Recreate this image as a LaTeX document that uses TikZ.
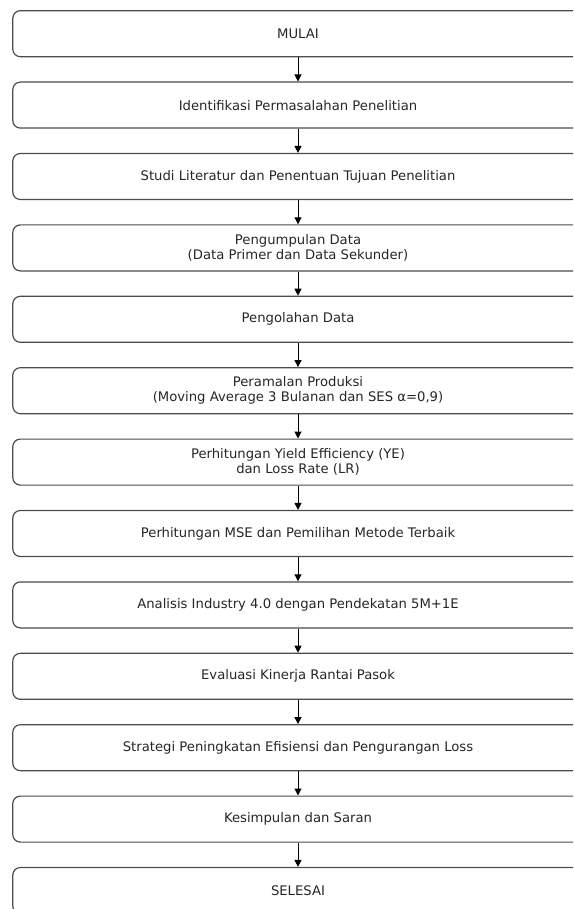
\documentclass[tikz,border=0pt]{standalone}
\usepackage{fontspec}
\setmainfont{DejaVu Sans}
\usetikzlibrary{positioning,arrows.meta}
\begin{document}
\begin{tikzpicture}[x=1pt, y=-1pt, node distance=24.2pt,
        stage/.style={draw=black!70, line width=1.2pt, rounded corners=7.5pt,
          minimum width=570.4pt, minimum height=46pt, inner sep=0pt,
          align=center, text=black!85, font=\fontsize{13.2}{15}\selectfont},
        flow/.style={-{Triangle[width=7pt,length=7pt]}, line width=1pt}]
        \clip (0, 0) rectangle (573, 909);

        % the boxes are wider than the picture and run past its right edge
        \node[stage] (mulai) at (298, 33.7) {MULAI};
        \node[stage, below=of mulai] (identifikasi) {Identifikasi Permasalahan Penelitian};
        \node[stage, below=of identifikasi] (studi) {Studi Literatur dan Penentuan Tujuan Penelitian};
        \node[stage, below=of studi] (pengumpulan) {Pengumpulan Data\\(Data Primer dan Data Sekunder)};
        \node[stage, below=of pengumpulan] (pengolahan) {Pengolahan Data};
        \node[stage, below=of pengolahan] (peramalan) {Peramalan Produksi\\(Moving Average 3 Bulanan dan SES α=0,9)};
        \node[stage, below=of peramalan] (yield) {Perhitungan Yield Efficiency (YE)\\dan Loss Rate (LR)};
        \node[stage, below=of yield] (mse) {Perhitungan MSE dan Pemilihan Metode Terbaik};
        \node[stage, below=of mse] (analisis) {Analisis Industry 4.0 dengan Pendekatan 5M+1E};
        \node[stage, below=of analisis] (evaluasi) {Evaluasi Kinerja Rantai Pasok};
        \node[stage, below=of evaluasi] (strategi) {Strategi Peningkatan Efisiensi dan Pengurangan Loss};
        \node[stage, below=of strategi] (kesimpulan) {Kesimpulan dan Saran};
        \node[stage, below=of kesimpulan] (selesai) {SELESAI};

        \draw[flow] (mulai) -- (identifikasi);
        \draw[flow] (identifikasi) -- (studi);
        \draw[flow] (studi) -- (pengumpulan);
        \draw[flow] (pengumpulan) -- (pengolahan);
        \draw[flow] (pengolahan) -- (peramalan);
        \draw[flow] (peramalan) -- (yield);
        \draw[flow] (yield) -- (mse);
        \draw[flow] (mse) -- (analisis);
        \draw[flow] (analisis) -- (evaluasi);
        \draw[flow] (evaluasi) -- (strategi);
        \draw[flow] (strategi) -- (kesimpulan);
        \draw[flow] (kesimpulan) -- (selesai);
\end{tikzpicture}
\end{document}
